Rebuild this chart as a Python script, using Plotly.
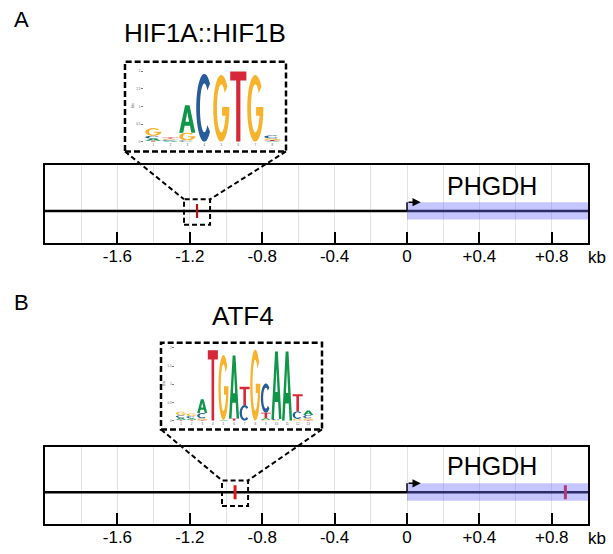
import numpy as np
import plotly.graph_objects as go

W, H = 613, 554

# ---------------- data ----------------
region = [-2.0, 1.0]
tick_vals = [-1.6, -1.2, -0.8, -0.4, 0.0, 0.4, 0.8]
tick_text = ["-1.6", "-1.2", "-0.8", "-0.4", "0", "+0.4", "+0.8"]
gene_name = "PHGDH"
gene_start = 0.0
gene_end = 1.0
tss_arrow_len = 0.076

hif_name = "HIF1A::HIF1B"
hif_sites = [-1.16]
atf4_name = "ATF4"
atf4_sites = [-0.95, 0.875]

hif_pos = [1, 2, 3, 4, 5, 6, 7, 8]
hif_A = [0.06, 0.03, 0.78, 0.00, 0.00, 0.00, 0.00, 0.02]
hif_C = [0.08, 0.03, 0.04, 1.93, 0.00, 0.00, 0.00, 0.08]
hif_G = [0.22, 0.03, 0.22, 0.00, 1.90, 0.00, 1.90, 0.05]
hif_T = [0.03, 0.03, 0.00, 0.00, 0.00, 2.00, 0.00, 0.03]

atf4_pos = [1, 2, 3, 4, 5, 6, 7, 8, 9, 10, 11, 12, 13]
atf4_A = [0.05, 0.04, 0.38, 0.00, 0.02, 1.73, 0.00, 0.00, 0.04, 1.85, 1.90, 0.00, 0.12]
atf4_C = [0.07, 0.06, 0.14, 0.00, 0.00, 0.00, 0.43, 0.00, 0.80, 0.03, 0.00, 0.21, 0.09]
atf4_G = [0.10, 0.07, 0.05, 0.00, 1.78, 0.00, 0.00, 1.95, 0.03, 0.02, 0.00, 0.05, 0.05]
atf4_T = [0.03, 0.03, 0.02, 1.93, 0.00, 0.06, 0.50, 0.00, 0.15, 0.00, 0.00, 0.47, 0.02]

bits_ticks = [0, 0.5, 1, 1.5, 2]

# ---------------- styles ----------------
FONT = "Liberation Sans, Arial, Helvetica, sans-serif"
NT_COL = {"A": "#109648", "C": "#255C99", "G": "#F7B32B", "T": "#D62839"}
LINE_Y = 0.41
BAND = (0.30, 0.525)
ZBOX_Y = (0.232, 0.562)
ZBOX_HALF = 0.072

def dxp(p0, p1):
    return [p0 / W, p1 / W]

def dyp(top, bottom):
    return [1 - bottom / H, 1 - top / H]

track_xdom = (45, 588)
tracks = {
    "A": dict(ytop=166, ybot=243.7),
    "B": dict(ytop=448.3, ybot=525.7),
}
logos = {
    "A": dict(box=(125, 62, 286, 152), xdom=(143.95, 281.65), ydom=(69.9, 142.3)),
    "B": dict(box=(161, 344, 322, 431), xdom=(175.2, 314.1), ydom=(347.2, 422.3)),
}

def kb2px(kb):
    return track_xdom[0] + (kb - region[0]) * (track_xdom[1] - track_xdom[0]) / (region[1] - region[0])

def ty2px(panel, v):
    t = tracks[panel]
    return t["ybot"] - v * (t["ybot"] - t["ytop"])

# ---------------- glyphs ----------------
def arc(cx, cy, rx, ry, a0, a1, n=28):
    th = np.radians(np.linspace(a0, a1, n))
    return list(zip(cx + rx * np.cos(th), cy + ry * np.sin(th)))

def glyph(letter):
    if letter == "T":
        return [[(0, 1), (1, 1), (1, 0.87), (0.63, 0.87), (0.63, 0), (0.37, 0), (0.37, 0.87), (0, 0.87)]]
    if letter == "A":
        outer = [(0, 0), (0.36, 1), (0.64, 1), (1, 0), (0.75, 0), (0.665, 0.25), (0.335, 0.25), (0.25, 0)]
        hole = [(0.39, 0.40), (0.61, 0.40), (0.5, 0.75)]
        return [outer, hole]
    if letter == "C":
        pts = arc(0.5, 0.5, 0.5, 0.5, 45, 315) + arc(0.5, 0.5, 0.27, 0.36, 315, 45)
        return [pts]
    if letter == "G":
        pts = arc(0.5, 0.5, 0.5, 0.5, 40, 360)
        pts += [(1.0, 0.52), (0.55, 0.52), (0.55, 0.39), (0.77, 0.39)]
        pts += arc(0.5, 0.5, 0.27, 0.36, 335, 40)
        return [pts]

def letter_path(letter, xc, y0, h, w=0.95):
    parts = []
    for poly in glyph(letter):
        s = "M " + " L ".join(f"{xc - w / 2 + u * w:.4f},{y0 + v * h:.4f}" for u, v in poly) + " Z"
        parts.append(s)
    return " ".join(parts)

fig = go.Figure()
shapes = []
annotations = []

axis_ids = {"A": ("x", "y", "x3", "y3"), "B": ("x2", "y2", "x4", "y4")}
motifs = {
    "A": (hif_name, hif_sites, hif_pos, {"A": hif_A, "C": hif_C, "G": hif_G, "T": hif_T}, "#b0141c", 2.2),
    "B": (atf4_name, atf4_sites, atf4_pos, {"A": atf4_A, "C": atf4_C, "G": atf4_G, "T": atf4_T}, "#e0161e", 3),
}

def paper_text(x, y, text, size):
    return dict(x=x / W, y=1 - y / H, xref="paper", yref="paper", xanchor="center",
                yanchor="middle", text=text, showarrow=False,
                font=dict(family=FONT, size=size, color="black"))

for panel in ["A", "B"]:
    xa, ya, lxa, lya = axis_ids[panel]
    name, sites, pos, mat, site_col, site_w = motifs[panel]

    # gene line
    fig.add_trace(go.Scatter(x=region, y=[LINE_Y, LINE_Y], mode="lines",
                             line=dict(color="black", width=2.5), xaxis=xa, yaxis=ya,
                             hoverinfo="skip", showlegend=False))
    # gene body band
    shapes.append(dict(type="rect", xref=xa, yref=ya, x0=gene_start, x1=gene_end,
                       y0=BAND[0], y1=BAND[1], fillcolor="rgba(110,110,255,0.40)",
                       line=dict(width=0), layer="above"))
    # TSS arrow
    shapes.append(dict(type="line", xref=xa, yref=ya, x0=gene_start, x1=gene_start,
                       y0=LINE_Y, y1=BAND[1], line=dict(color="black", width=1.5), layer="above"))
    annotations.append(dict(x=gene_start + tss_arrow_len, y=BAND[1], ax=gene_start, ay=BAND[1],
                            xref=xa, yref=ya, axref=xa, ayref=ya, text="", showarrow=True,
                            arrowhead=2, arrowsize=1.1, arrowwidth=1.5, arrowcolor="black"))
    # gene name
    annotations.append(dict(x=0.472, y=0.74 if panel == "A" else 0.75, xref=xa, yref=ya,
                            xanchor="center", yanchor="middle",
                            text=gene_name, showarrow=False,
                            font=dict(family=FONT, size=25, color="black")))
    # motif sites
    fig.add_trace(go.Scatter(x=sites, y=[LINE_Y] * len(sites), mode="markers",
                             marker=dict(symbol="line-ns", size=10,
                                         line=dict(color=site_col, width=site_w)),
                             xaxis=xa, yaxis=ya, hoverinfo="skip", showlegend=False))
    # zoom box around first site
    s0 = sites[0]
    shapes.append(dict(type="rect", xref=xa, yref=ya, x0=s0 - ZBOX_HALF, x1=s0 + ZBOX_HALF,
                       y0=ZBOX_Y[0], y1=ZBOX_Y[1],
                       line=dict(color="black", width=2, dash="5px,3px"), layer="above"))
    # logo box and connectors (paper coords)
    bx0, by0, bx1, by1 = logos[panel]["box"]
    shapes.append(dict(type="rect", xref="paper", yref="paper", x0=bx0 / W, x1=bx1 / W,
                       y0=1 - by1 / H, y1=1 - by0 / H,
                       line=dict(color="black", width=2.5, dash="6px,3px")))
    zx0 = kb2px(s0 - ZBOX_HALF)
    zx1 = kb2px(s0 + ZBOX_HALF)
    zy = ty2px(panel, ZBOX_Y[1])
    for (lx, rx) in [(bx0, zx0), (bx1, zx1)]:
        shapes.append(dict(type="line", xref="paper", yref="paper", x0=lx / W, y0=1 - by1 / H,
                           x1=rx / W, y1=1 - zy / H,
                           line=dict(color="black", width=2, dash="5px,3px")))
    # logo letters
    for i, p in enumerate(pos):
        hs = sorted([(mat[l][i], l) for l in "ACGT"])
        base = 0.0
        for h, l in hs:
            if h <= 0.005:
                continue
            shapes.append(dict(type="path", xref=lxa, yref=lya, path=letter_path(l, p, base, h),
                               fillcolor=NT_COL[l], line=dict(width=0), fillrule="evenodd"))
            base += h
    fig.add_trace(go.Scatter(x=pos, y=[0] * len(pos), mode="markers", marker=dict(opacity=0),
                             xaxis=lxa, yaxis=lya, hoverinfo="skip", showlegend=False))

    # titles
    t = tracks[panel]
    annotations.append(paper_text(22, 20 if panel == "A" else 304, panel, 22))
    annotations.append(paper_text(205 if panel == "A" else 242.5, 33 if panel == "A" else 317, name, 26))
    annotations.append(paper_text(597, t["ybot"] + 14.5, "kb", 17))

track_x = dict(range=region, domain=dxp(*track_xdom), tickmode="array", tickvals=tick_vals,
               ticktext=tick_text, ticks="inside", ticklen=11, tickwidth=2, tickcolor="black",
               showline=True, mirror=True, linecolor="black", linewidth=2,
               showgrid=True, gridcolor="#e2e2e2", gridwidth=1, zeroline=False,
               minor=dict(tickmode="linear", tick0=0, dtick=0.2, showgrid=True,
                          gridcolor="#e2e2e2", gridwidth=1, ticks=""),
               ticklabelstandoff=-3,
               tickfont=dict(family=FONT, size=17, color="black"), fixedrange=True)
track_y = dict(range=[0, 1], showticklabels=False, ticks="", showgrid=False, zeroline=False,
               showline=True, mirror=True, linecolor="black", linewidth=2, fixedrange=True)

def logo_axes(panel, n):
    lg = logos[panel]
    xa = dict(range=[0.45, n + 0.55], domain=dxp(*lg["xdom"]), tickmode="array",
              tickvals=list(range(1, n + 1)), ticktext=[str(i) for i in range(1, n + 1)],
              ticks="", tickfont=dict(family=FONT, size=3, color="#555"),
              showline=False, showgrid=False, zeroline=False, fixedrange=True)
    ya = dict(range=[0, 2.05], domain=dyp(*lg["ydom"]), tickmode="array", tickvals=bits_ticks,
              ticktext=[str(v) for v in bits_ticks], ticks="outside", ticklen=2, tickwidth=0.5,
              tickcolor="#777", tickfont=dict(family=FONT, size=3, color="#555"),
              title=dict(text="Bits", font=dict(family=FONT, size=3, color="#555"), standoff=2),
              showline=False, showgrid=False, zeroline=False, fixedrange=True)
    return xa, ya

lxA, lyA = logo_axes("A", len(hif_pos))
lxB, lyB = logo_axes("B", len(atf4_pos))

fig.update_layout(
    width=W, height=H, autosize=False,
    margin=dict(l=0, r=0, t=0, b=0),
    paper_bgcolor="white", plot_bgcolor="rgba(0,0,0,0)",
    showlegend=False,
    xaxis=dict(track_x, anchor="y"),
    yaxis=dict(track_y, domain=dyp(tracks["A"]["ytop"], tracks["A"]["ybot"]), anchor="x"),
    xaxis2=dict(track_x, anchor="y2"),
    yaxis2=dict(track_y, domain=dyp(tracks["B"]["ytop"], tracks["B"]["ybot"]), anchor="x2"),
    xaxis3=dict(lxA, anchor="y3"),
    yaxis3=dict(lyA, anchor="x3"),
    xaxis4=dict(lxB, anchor="y4"),
    yaxis4=dict(lyB, anchor="x4"),
    shapes=shapes,
    annotations=annotations,
)

fig.write_html("out.html", config={"displayModeBar": False},
               post_script="document.body.style.margin='0px';")
